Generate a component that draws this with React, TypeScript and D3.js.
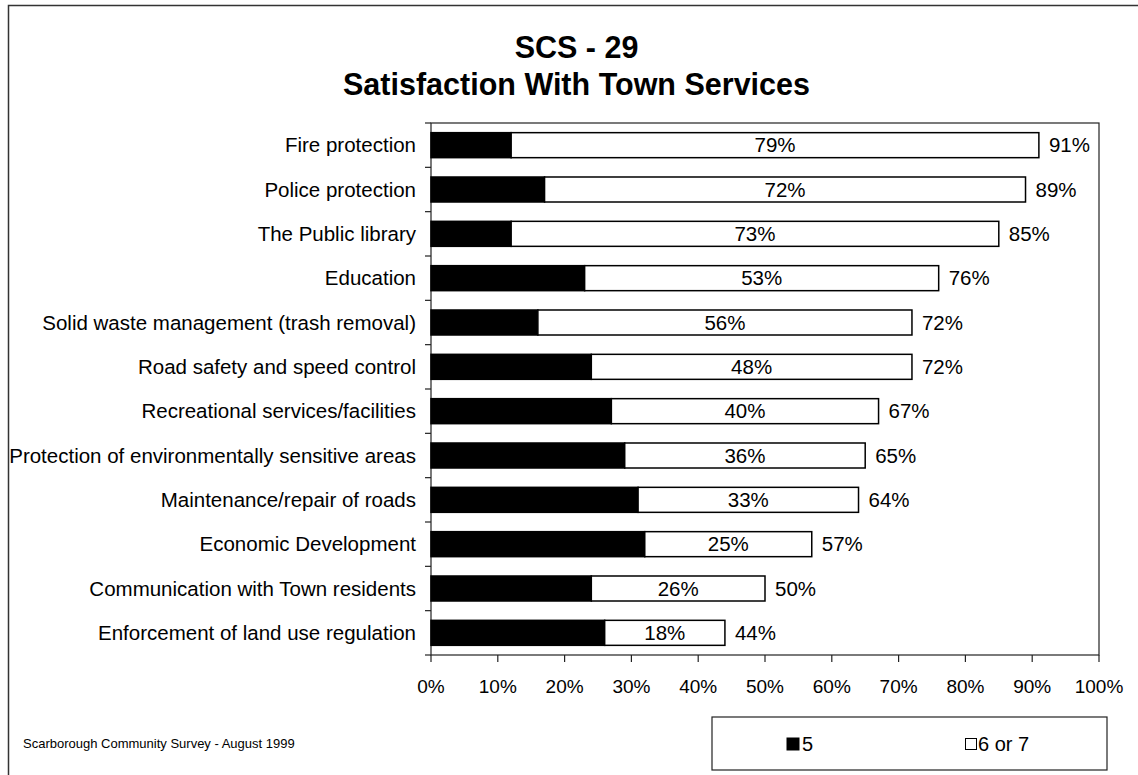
import React from "react";
import * as d3 from "d3";

const categories = [
  "Fire protection",
  "Police protection",
  "The Public library",
  "Education",
  "Solid waste management (trash removal)",
  "Road safety and speed control",
  "Recreational services/facilities",
  "Protection of environmentally sensitive areas",
  "Maintenance/repair of roads",
  "Economic Development",
  "Communication with Town residents",
  "Enforcement of land use regulation",
];
const series5 = [12, 17, 12, 23, 16, 24, 27, 29, 31, 32, 24, 26];
const series67 = [79, 72, 73, 53, 56, 48, 40, 36, 33, 25, 26, 18];
const totals = [91, 89, 85, 76, 72, 72, 67, 65, 64, 57, 50, 44];
const xTicks = [0, 10, 20, 30, 40, 50, 60, 70, 80, 90, 100];
const legendLabels = ["5", "6 or 7"];
const titleLines = ["SCS - 29", "Satisfaction With Town Services"];
const footnote = "Scarborough Community Survey - August 1999";

const FONT = "'Liberation Sans', Arial, Helvetica, sans-serif";

export default function App() {
  const W = 1138;
  const H = 775;
  const left = 431;
  const right = 1099;
  const top = 123;
  const bottom = 655;
  const x = d3.scaleLinear().domain([0, 100]).range([left, right]);
  const y = d3
    .scaleBand<string>()
    .domain(categories)
    .range([top, bottom])
    .paddingInner(0.436)
    .paddingOuter(0.218);
  const step = y.step();
  const bw = y.bandwidth();
  const boundaries = d3.range(categories.length + 1).map((i) => top + i * step);

  return (
    <svg
      width={W}
      height={H}
      style={{ position: "absolute", left: 0, top: 0, background: "#fff" }}
      fontFamily={FONT}
    >
      <rect x={0} y={0} width={W} height={H} fill="#fff" />
      <rect x={8.5} y={5.5} width={1200} height={900} fill="none" stroke="#333" strokeWidth={1.5} />

      {/* title */}
      <text x={576.5} y={58} textAnchor="middle" fontSize={30.5} fontWeight="bold" fill="#000">
        {titleLines[0]}
      </text>
      <text x={576.5} y={95} textAnchor="middle" fontSize={30.5} fontWeight="bold" fill="#000">
        {titleLines[1]}
      </text>

      {/* plot area */}
      <rect x={left} y={top} width={right - left} height={bottom - top} fill="#fff" stroke="#222" strokeWidth={1.2} />

      {/* y ticks */}
      {boundaries.map((b, i) => (
        <line key={"yt" + i} x1={left - 6} x2={left} y1={b} y2={b} stroke="#222" strokeWidth={1.2} />
      ))}
      {/* x ticks */}
      {xTicks.map((t) => (
        <g key={"xt" + t}>
          <line x1={x(t)} x2={x(t)} y1={bottom} y2={bottom + 7} stroke="#222" strokeWidth={1.2} />
          <text x={x(t)} y={bottom + 38} textAnchor="middle" fontSize={19} fill="#000">
            {t + "%"}
          </text>
        </g>
      ))}

      {/* bars */}
      {categories.map((c, i) => {
        const yy = y(c)!;
        const cy = yy + bw / 2;
        return (
          <g key={c}>
            <text x={416} y={cy + 7} textAnchor="end" fontSize={20.5} fill="#000">
              {c}
            </text>
            <rect x={x(0)} y={yy} width={x(series5[i]) - x(0)} height={bw} fill="#000" stroke="#000" strokeWidth={1.5} />
            <rect
              x={x(series5[i])}
              y={yy}
              width={x(series5[i] + series67[i]) - x(series5[i])}
              height={bw}
              fill="#fff"
              stroke="#000"
              strokeWidth={1.5}
            />
            <text
              x={(x(series5[i]) + x(series5[i] + series67[i])) / 2}
              y={cy + 7}
              textAnchor="middle"
              fontSize={20.5}
              fill="#000"
            >
              {series67[i] + "%"}
            </text>
            <text x={x(totals[i]) + 10} y={cy + 7} textAnchor="start" fontSize={20.5} fill="#000">
              {totals[i] + "%"}
            </text>
          </g>
        );
      })}

      {/* footnote */}
      <text x={23} y={748} fontSize={13} fill="#000">
        {footnote}
      </text>

      {/* legend */}
      <rect x={712} y={717} width={395} height={53} fill="#fff" stroke="#222" strokeWidth={1.2} />
      <rect x={787} y={738} width={12} height={12} fill="#000" stroke="#000" strokeWidth={1} />
      <text x={802} y={751} fontSize={20} fill="#000">
        {legendLabels[0]}
      </text>
      <rect x={965.5} y={738.5} width={11} height={11} fill="#fff" stroke="#000" strokeWidth={1} />
      <text x={978} y={751} fontSize={20} fill="#000">
        {legendLabels[1]}
      </text>
    </svg>
  );
}
